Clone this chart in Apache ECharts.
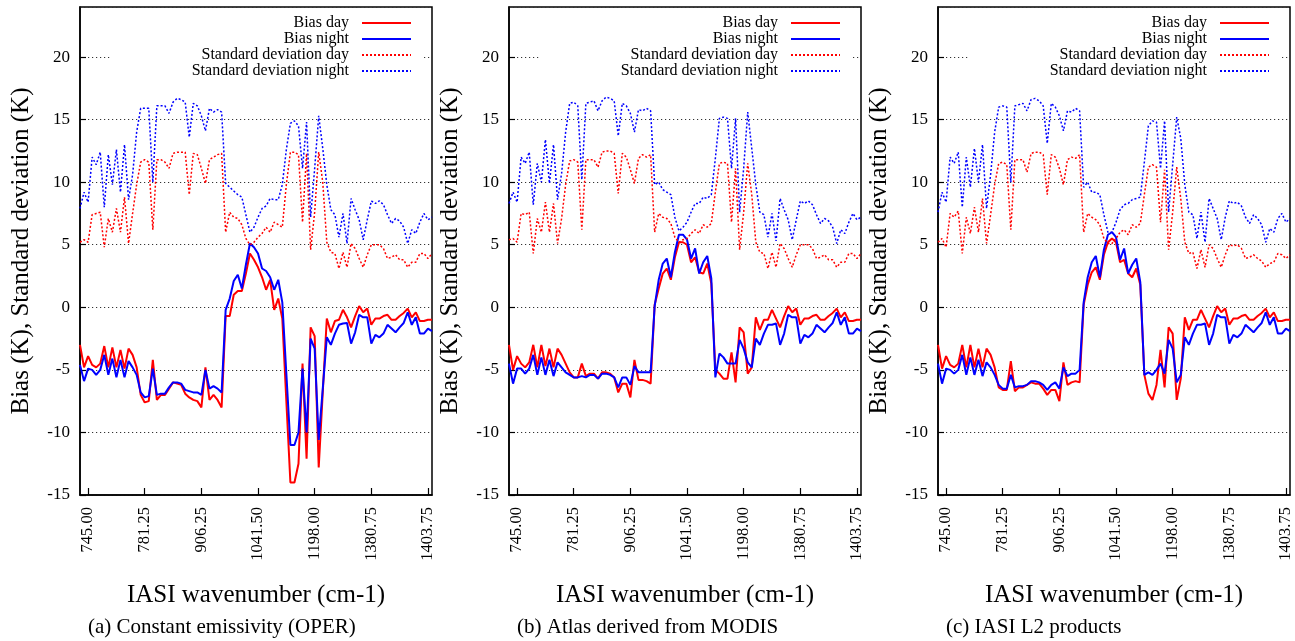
<!DOCTYPE html>
<html>
<head>
<meta charset="utf-8">
<script src="https://cdn.jsdelivr.net/npm/echarts@6/dist/echarts.min.js"></script>
<style>
html,body{margin:0;padding:0;background:#fff;}
#chart{width:1295px;height:641px;}
</style>
</head>
<body>
<div id="chart"></div>
<script>
// ---- data ----
var tickIndex = [2, 16, 30, 44, 58, 72, 86];
var tickLabels = ['745.00', '781.25', '906.25', '1041.50', '1198.00', '1380.75', '1403.75'];
var seriesNames = ['Bias day', 'Bias night', 'Standard deviation day', 'Standard deviation night'];
var panelCaptions = ['(a) Constant emissivity (OPER)', '(b) Atlas derived from MODIS', '(c) IASI L2 products'];
var yTicks = { min: -15, max: 24, step: 5 };

var biasDayA = [-3.0,-4.8,-3.9,-4.6,-4.8,-4.5,-3.1,-4.8,-3.2,-4.8,
  -3.4,-4.9,-3.3,-3.8,-4.8,-7.0,-7.6,-7.5,-4.2,-7.4,
  -7.0,-7.0,-6.5,-6.0,-6.1,-6.2,-6.9,-7.2,-7.4,-7.5,
  -8.0,-4.8,-7.4,-7.0,-7.4,-8.0,-0.7,-0.7,1.0,1.3,
  1.3,2.7,4.3,3.8,3.2,2.4,1.4,2.2,-0.2,0.7,
  -0.9,-7.5,-14.0,-14.0,-12.5,-4.5,-12.1,-1.6,-2.3,-12.8,
  -6.8,-0.9,-2.0,-1.1,-1.0,-0.2,-0.8,-1.6,-0.7,0.1,
  -0.4,-0.1,-1.4,-0.9,-0.9,-0.7,-0.6,-1.0,-1.0,-0.7,
  -0.45,-0.1,-0.8,-0.4,-1.1,-1.1,-1.0,-1.0];
var biasNightA = [-4.6,-5.9,-4.9,-5.0,-5.4,-5.0,-3.8,-5.4,-4.1,-5.6,
  -4.2,-5.6,-4.3,-4.8,-5.4,-6.8,-7.2,-7.1,-4.9,-7.0,
  -6.9,-6.9,-6.4,-6.0,-6.0,-6.1,-6.6,-6.7,-6.8,-6.8,
  -7.0,-5.0,-6.5,-6.3,-6.5,-6.8,-0.2,0.7,2.1,2.6,
  1.5,3.4,5.1,4.8,4.3,3.1,2.9,2.4,1.4,2.2,
  0.4,-5.3,-11.0,-11.0,-10.0,-4.9,-10.0,-2.5,-3.3,-10.6,
  -6.5,-2.4,-3.0,-2.1,-1.4,-1.3,-1.25,-2.9,-2.0,-0.6,
  -0.8,-0.8,-2.9,-2.2,-2.4,-2.1,-1.4,-1.7,-2.0,-1.6,
  -1.25,-0.4,-1.4,-0.8,-2.1,-2.1,-1.7,-1.9];
var stdDayA = [5.2,5.4,5.2,7.4,7.5,7.6,4.8,7.1,6.0,7.9,
  6.0,8.8,5.1,7.5,9.8,11.6,11.8,11.6,6.2,11.8,
  11.8,11.6,11.1,12.3,12.4,12.4,12.4,9.0,12.3,12.2,
  11.1,9.9,11.8,12.0,12.2,12.3,6.0,7.6,7.2,7.1,
  6.6,5.5,5.0,5.2,5.6,5.9,6.4,6.0,6.8,6.6,
  6.4,9.8,12.4,12.4,12.2,6.8,12.3,4.6,7.6,12.4,
  10.0,5.2,4.4,4.3,3.1,4.4,3.2,5.1,4.7,3.9,
  3.2,4.2,5.0,5.0,5.0,4.7,3.9,4.0,4.2,3.8,
  3.8,3.2,3.6,3.6,4.3,4.3,3.9,4.3];
var stdNightA = [7.9,9.2,8.4,12.0,11.4,12.4,8.0,12.2,9.8,12.6,
  9.2,13.0,8.6,10.6,14.0,15.9,15.9,15.9,10.0,16.1,
  16.1,16.1,15.5,16.4,16.7,16.6,16.4,13.6,16.3,16.1,
  15.3,14.1,15.9,15.6,15.8,15.6,9.9,9.6,9.3,9.0,
  8.8,7.4,6.0,6.4,7.2,7.9,8.1,8.7,8.6,8.6,
  9.8,12.6,14.7,14.9,14.5,11.1,14.8,7.2,11.1,15.3,
  12.7,9.8,7.8,7.4,5.6,7.5,5.1,8.7,7.8,7.0,
  5.4,7.0,8.5,8.3,8.5,8.2,7.4,6.7,7.1,6.9,
  6.4,5.1,6.2,5.9,6.8,7.5,7.0,7.2];

var biasDayB = [-3.0,-5.0,-3.9,-4.5,-4.8,-4.4,-3.0,-4.8,-3.0,-4.7,
  -3.3,-4.8,-3.3,-3.8,-4.5,-5.2,-5.6,-5.6,-4.5,-5.5,
  -5.3,-5.3,-5.7,-5.2,-5.2,-5.3,-5.6,-6.8,-6.1,-6.1,
  -7.2,-4.2,-5.8,-5.8,-5.9,-6.1,0.2,1.5,2.7,3.1,
  2.2,4.0,5.2,5.2,5.0,3.6,4.0,2.8,2.7,3.5,
  1.9,-5.0,-5.3,-5.7,-5.7,-3.6,-6.0,-1.6,-2.0,-5.3,
  -4.8,-0.8,-1.8,-1.0,-1.0,-0.2,-0.9,-1.6,-0.7,0.1,
  -0.4,-0.1,-1.4,-0.9,-0.9,-0.7,-0.6,-1.0,-1.0,-0.7,
  -0.45,-0.1,-0.8,-0.4,-1.1,-1.1,-1.0,-1.0];
var biasNightB = [-4.5,-6.1,-4.9,-4.9,-5.3,-4.9,-3.8,-5.4,-4.0,-5.4,
  -4.2,-5.5,-4.4,-4.8,-5.2,-5.4,-5.6,-5.6,-5.5,-5.6,
  -5.4,-5.4,-5.7,-5.3,-5.3,-5.4,-5.6,-6.4,-5.6,-5.6,
  -6.2,-4.7,-5.2,-5.2,-5.2,-5.2,0.1,2.2,3.5,3.9,
  2.4,4.4,5.8,5.8,5.4,3.9,4.7,2.7,3.6,4.1,
  2.3,-5.6,-3.7,-4.0,-4.5,-4.5,-4.5,-2.6,-3.3,-4.4,
  -4.8,-2.5,-3.0,-2.1,-1.4,-1.4,-1.3,-3.0,-2.1,-0.6,
  -0.8,-0.8,-2.9,-2.2,-2.4,-2.1,-1.4,-1.7,-2.0,-1.6,
  -1.25,-0.4,-1.4,-0.8,-2.1,-2.1,-1.7,-1.9];
var stdDayB = [5.4,5.5,5.2,7.5,7.4,7.6,4.3,7.1,6.0,8.4,
  6.0,8.3,5.1,7.1,9.8,11.7,11.8,11.6,6.2,11.8,
  11.8,11.8,11.2,12.4,12.5,12.5,12.3,9.1,12.3,12.0,
  11.0,9.9,11.9,12.2,12.0,12.2,6.0,7.5,7.2,7.1,
  6.7,5.6,5.2,5.4,5.5,5.9,6.2,5.9,6.6,6.4,
  6.7,9.2,11.5,11.6,11.5,6.8,11.1,4.6,7.6,11.5,
  9.0,5.2,4.4,4.3,3.1,4.4,3.2,5.1,4.7,3.9,
  3.2,4.2,5.0,5.0,5.0,4.7,3.9,4.0,4.2,3.8,
  3.8,3.2,3.6,3.6,4.3,4.3,3.9,4.3];
var stdNightB = [8.3,9.2,8.4,12.0,11.5,12.4,8.2,11.5,10.0,13.4,
  9.9,13.0,8.6,10.7,14.0,16.3,16.4,16.1,10.2,16.3,
  16.4,16.5,15.7,16.5,16.8,16.7,16.5,13.7,16.3,16.1,
  15.5,14.0,15.8,15.7,15.9,15.7,9.8,10.0,9.4,9.2,
  9.0,7.2,6.1,6.4,6.8,7.6,8.3,8.3,8.8,8.7,
  9.0,11.9,15.1,15.2,15.1,11.1,15.1,7.6,11.1,15.6,
  12.7,9.8,7.6,7.4,5.6,7.5,5.3,8.7,7.8,7.0,
  5.4,7.0,8.5,8.3,8.5,8.2,7.4,6.7,7.1,6.9,
  6.4,5.1,6.2,5.9,6.8,7.5,7.0,7.2];

var biasDayC = [-3.0,-4.9,-3.9,-4.6,-4.8,-4.5,-3.0,-4.8,-3.0,-4.8,
  -3.3,-4.8,-3.3,-3.8,-4.8,-6.4,-6.6,-6.6,-4.3,-6.7,
  -6.4,-6.4,-6.2,-6.0,-6.1,-6.1,-6.5,-7.0,-6.6,-6.6,
  -7.5,-4.4,-6.2,-6.0,-5.9,-6.0,0.2,1.8,2.8,3.2,
  2.2,4.2,5.2,5.5,5.2,3.6,3.8,2.7,2.4,3.1,
  1.8,-5.4,-6.9,-7.4,-6.2,-3.4,-6.4,-1.6,-2.1,-7.4,
  -5.7,-0.8,-1.8,-1.0,-1.0,-0.2,-0.9,-1.6,-0.7,0.1,
  -0.4,-0.1,-1.4,-0.9,-0.9,-0.7,-0.6,-1.0,-1.0,-0.7,
  -0.45,-0.1,-0.8,-0.4,-1.1,-1.1,-1.0,-1.0];
var biasNightC = [-4.5,-6.1,-4.9,-5.0,-5.3,-5.0,-3.8,-5.4,-4.0,-5.4,
  -4.2,-5.5,-4.4,-4.8,-5.4,-6.2,-6.5,-6.5,-5.4,-6.4,
  -6.3,-6.3,-6.2,-5.9,-5.9,-6.0,-6.2,-6.6,-6.2,-6.0,
  -6.5,-4.8,-5.5,-5.3,-5.3,-5.0,0.4,2.4,3.6,4.1,
  2.4,4.6,5.8,6.0,5.6,3.8,4.7,2.7,3.4,3.9,
  2.0,-5.4,-5.2,-5.4,-5.0,-4.5,-5.3,-2.6,-3.3,-6.0,
  -5.4,-2.4,-3.0,-2.1,-1.4,-1.4,-1.3,-3.0,-2.1,-0.6,
  -0.8,-0.8,-2.9,-2.2,-2.4,-2.1,-1.4,-1.7,-2.0,-1.6,
  -1.25,-0.4,-1.4,-0.8,-2.1,-2.1,-1.7,-1.9];
var stdDayC = [5.2,5.5,4.8,7.5,7.2,7.7,4.3,7.2,5.9,8.0,
  6.0,8.7,5.1,7.4,9.8,11.5,11.6,11.4,6.2,11.8,
  11.8,11.8,10.8,12.3,12.4,12.4,12.2,9.0,12.2,12.0,
  11.1,9.8,11.8,12.0,11.9,12.2,6.0,7.5,7.2,7.0,
  6.6,5.5,5.1,5.1,5.5,6.0,6.2,5.8,6.6,6.4,
  6.7,9.0,11.2,11.4,11.2,6.8,11.0,4.6,7.6,11.2,
  8.7,5.2,4.3,4.4,3.1,4.6,3.2,5.0,4.7,3.9,
  3.2,4.2,5.0,4.9,5.0,4.7,3.9,4.0,4.2,3.9,
  3.7,3.2,3.5,3.6,4.3,4.2,3.9,4.2];
var stdNightC = [7.6,9.2,8.4,12.0,11.5,12.4,8.0,12.0,9.6,12.7,
  10.0,13.0,7.9,10.6,14.0,16.0,16.1,16.0,10.0,16.1,
  16.2,16.3,15.7,16.6,16.7,16.5,16.1,13.1,16.3,16.0,
  15.3,14.1,15.7,15.6,15.9,15.7,9.6,10.0,9.2,9.2,
  9.0,7.4,6.0,6.0,6.8,7.8,8.2,8.3,8.6,8.7,
  8.8,11.6,14.5,14.9,14.8,11.1,14.9,7.6,11.4,15.2,
  13.5,9.8,7.6,7.4,5.5,7.6,5.2,8.7,7.9,7.1,
  5.4,7.2,8.5,8.3,8.4,8.1,7.2,6.7,7.4,7.1,
  6.6,5.2,6.3,6.0,7.1,7.5,6.8,7.1];

var panels = [
  [biasDayA, biasNightA, stdDayA, stdNightA],
  [biasDayB, biasNightB, stdDayB, stdNightB],
  [biasDayC, biasNightC, stdDayC, stdNightC]
];

// ---- chart ----
var FONT = '"Liberation Serif", "DejaVu Serif", serif';
var categories = [];
for (var k = 0; k < biasDayA.length; k++) categories.push(String(k));
var labelOf = {};
tickIndex.forEach(function (t, j) { labelOf[String(t)] = tickLabels[j]; });
function isTick(idx) { return tickIndex.indexOf(idx) >= 0; }

var plotLefts = [80, 509, 938];
var plotW = 352, plotTop = 7, plotH = 488;
var styles = [
  { color: '#ff0000', width: 2, type: 'solid' },
  { color: '#0000ff', width: 2, type: 'solid' },
  { color: '#ff0000', width: 1.5, type: [2, 2] },
  { color: '#0000ff', width: 1.5, type: [2, 2] }
];

var grids = [], xAxes = [], yAxes = [], series = [], legends = [], titles = [];
plotLefts.forEach(function (L, p) {
  grids.push({ left: L, top: plotTop, width: plotW, height: plotH, show: true,
    borderColor: '#000', borderWidth: 1.5, backgroundColor: 'transparent', containLabel: false });
  xAxes.push({
    type: 'category', gridIndex: p, data: categories, boundaryGap: false,
    name: 'IASI wavenumber (cm-1)', nameLocation: 'middle', nameGap: 88,
    nameTextStyle: { fontFamily: FONT, fontSize: 25, color: '#000' },
    axisLine: { show: true, onZero: false, lineStyle: { color: '#000', width: 1.5 } },
    axisTick: { show: true, inside: true, length: 7, interval: function (i) { return isTick(i); },
      lineStyle: { color: '#000', width: 1.2 } },
    axisLabel: { show: true, interval: function (i) { return isTick(i); }, rotate: 90, margin: 12,
      fontFamily: FONT, fontSize: 16.5, color: '#000',
      formatter: function (v) { return labelOf[v] || ''; } },
    splitLine: { show: false }
  });
  yAxes.push({
    type: 'value', gridIndex: p, min: yTicks.min, max: yTicks.max, interval: yTicks.step,
    name: 'Bias (K), Standard deviation (K)', nameLocation: 'middle', nameGap: 46,
    nameTextStyle: { fontFamily: FONT, fontSize: 25, color: '#000' },
    axisLine: { show: true, onZero: false, lineStyle: { color: '#000', width: 1.5 } },
    axisTick: { show: true, inside: true, length: 6, lineStyle: { color: '#000', width: 1.2 } },
    axisLabel: { showMaxLabel: false, margin: 10, fontFamily: FONT, fontSize: 17, color: '#000' },
    splitLine: { show: true, lineStyle: { color: '#333', width: 1, type: [1.2, 2.8] } }
  });
  panels[p].forEach(function (vals, s) {
    series.push({
      type: 'line', name: seriesNames[s], xAxisIndex: p, yAxisIndex: p, data: vals,
      symbol: 'none', showSymbol: false, animation: false, silent: true,
      lineStyle: styles[s], itemStyle: { color: styles[s].color }, z: 2 + s * 0.01
    });
  });
  legends.push({
    data: seriesNames, orient: 'vertical', align: 'right',
    right: 1295 - (L + 342), top: 9, itemWidth: 49, itemHeight: 17.4, itemGap: 0,
    padding: [6, 10, 4, 80], backgroundColor: '#fff', selectedMode: false,
    itemStyle: { opacity: 0, borderWidth: 0 },
    formatter: function (n) { return n + '\u00a0\u00a0'; },
    textStyle: { fontFamily: FONT, fontSize: 16, color: '#000' }
  });
  titles.push({
    text: panelCaptions[p], left: L + 8, top: 617, padding: 0,
    textStyle: { fontFamily: FONT, fontSize: 21, fontWeight: 'normal', color: '#000' }
  });
});

var chart = echarts.init(document.getElementById('chart'), null, { renderer: 'canvas' });
chart.setOption({
  backgroundColor: '#fff', animation: false,
  title: titles, grid: grids, xAxis: xAxes, yAxis: yAxes, legend: legends, series: series
});
</script>
</body>
</html>
